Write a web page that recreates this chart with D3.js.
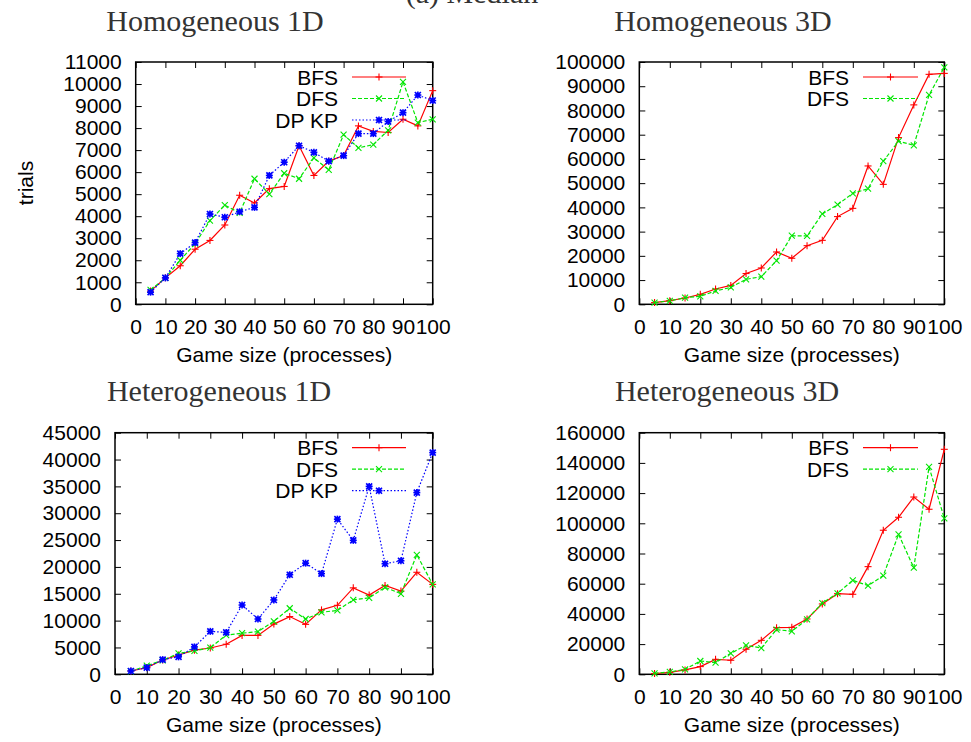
<!DOCTYPE html>
<html>
<head>
<meta charset="utf-8">
<script src="https://cdn.jsdelivr.net/npm/d3@7"></script>
<style>
  html, body { margin: 0; padding: 0; background: #fff; }
  svg { display: block; }
</style>
</head>
<body>
<svg id="fig" width="971" height="742"></svg>
<script>
// Game sizes (number of processes) on the x axis
const gameSizes = [5, 10, 15, 20, 25, 30, 35, 40, 45, 50, 55, 60, 65, 70, 75, 80, 85, 90, 95, 100];
const xTicks = [0, 10, 20, 30, 40, 50, 60, 70, 80, 90, 100];

// Homogeneous 1D: median trials
const homo1dBFS = [600, 1200, 1750, 2500, 2900, 3600, 4950, 4600, 5250, 5350, 7200, 5850, 6500, 6750, 8100, 7850, 7800, 8400, 8100, 9700];
const homo1dDFS = [650, 1200, 2000, 2750, 3800, 4500, 4150, 5700, 5000, 5950, 5700, 6650, 6100, 7700, 7100, 7250, 7900, 10100, 8250, 8400];
const homo1dDPKP = [550, 1200, 2300, 2800, 4100, 3950, 4200, 4400, 5850, 6450, 7200, 6900, 6500, 6750, 7750, 7750, 8300, 8700, 9500, 9250];

// Homogeneous 3D
const homo3dBFS = [700, 1500, 2600, 4100, 6300, 7800, 12700, 15000, 21600, 19000, 24200, 26400, 36200, 39600, 57100, 49500, 68800, 82300, 94900, 95300];
const homo3dDFS = [700, 1400, 2750, 3300, 5500, 7000, 10300, 11400, 18000, 28300, 28200, 37300, 41100, 45800, 47700, 59100, 67300, 65600, 86400, 97800];

// Heterogeneous 1D
const hetero1dBFS = [620, 1250, 2650, 3600, 4500, 4900, 5600, 7250, 7250, 9350, 10750, 9300, 12000, 12850, 16100, 14750, 16550, 15500, 19000, 16750];
const hetero1dDFS = [560, 1600, 2600, 3900, 4350, 4950, 7300, 7650, 7950, 9850, 12300, 10300, 11550, 11900, 13850, 14250, 16200, 15000, 22250, 16750];
const hetero1dDPKP = [620, 1240, 2730, 3250, 5100, 8000, 7800, 12900, 10300, 13850, 18550, 20700, 18750, 28900, 24950, 35000, 20600, 21150, 33850, 41300];

// Heterogeneous 3D
const hetero3dBFS = [450, 1300, 2900, 5100, 9900, 9300, 16600, 22500, 30900, 31100, 36650, 46600, 53400, 53000, 71300, 95400, 104000, 117400, 109300, 149000];
const hetero3dDFS = [650, 1550, 3300, 8800, 7700, 13900, 19200, 17400, 29600, 28500, 36400, 47200, 53600, 62250, 58700, 65350, 92700, 70600, 137300, 103300];

// Y tick values for each panel
const homo1dTicks = [0, 1000, 2000, 3000, 4000, 5000, 6000, 7000, 8000, 9000, 10000, 11000];
const homo3dTicks = [0, 10000, 20000, 30000, 40000, 50000, 60000, 70000, 80000, 90000, 100000];
const hetero1dTicks = [0, 5000, 10000, 15000, 20000, 25000, 30000, 35000, 40000, 45000];
const hetero3dTicks = [0, 20000, 40000, 60000, 80000, 100000, 120000, 140000, 160000];

const seriesStyle = {
  "BFS":   { color: "#ff0000", dash: null,  marker: "plus" },
  "DFS":   { color: "#00e600", dash: "4,2", marker: "cross" },
  "DP KP": { color: "#0000ff", dash: "1.5,2", marker: "star" }
};

const svg = d3.select("#fig");
const sansFont = "'Liberation Sans', Arial, sans-serif";
const serifFont = "'Liberation Serif', 'Times New Roman', serif";

// Figure caption, partly above the page edge
svg.append("text")
  .attr("x", 472).attr("y", 3)
  .attr("text-anchor", "middle")
  .attr("font-family", serifFont).attr("font-size", 30)
  .attr("fill", "#333")
  .text("(a) Median");

function drawMarker(g, kind, x, y, color) {
  const s = 3.5;
  if (kind === "plus" || kind === "star") {
    g.append("line").attr("x1", x - s).attr("x2", x + s).attr("y1", y).attr("y2", y)
      .attr("stroke", color).attr("stroke-width", kind === "star" ? 1.6 : 1.1);
    g.append("line").attr("x1", x).attr("x2", x).attr("y1", y - s).attr("y2", y + s)
      .attr("stroke", color).attr("stroke-width", kind === "star" ? 1.6 : 1.1);
  }
  if (kind === "cross" || kind === "star") {
    const c = kind === "star" ? 3 : 3;
    g.append("line").attr("x1", x - c).attr("x2", x + c).attr("y1", y - c).attr("y2", y + c)
      .attr("stroke", color).attr("stroke-width", kind === "star" ? 1.6 : 1.1);
    g.append("line").attr("x1", x - c).attr("x2", x + c).attr("y1", y + c).attr("y2", y - c)
      .attr("stroke", color).attr("stroke-width", kind === "star" ? 1.6 : 1.1);
  }
  if (kind === "star") {
    g.append("rect").attr("x", x - 2.2).attr("y", y - 2.2).attr("width", 4.4).attr("height", 4.4)
      .attr("fill", color);
  }
}

function drawPanel(cfg) {
  const x = d3.scaleLinear().domain([0, 100]).range([cfg.left, cfg.right]);
  const y = d3.scaleLinear().domain([0, cfg.yTicks[cfg.yTicks.length - 1]]).range([cfg.bottom, cfg.top]);
  const g = svg.append("g");

  // Panel title
  g.append("text")
    .attr("x", cfg.titleX).attr("y", cfg.titleY)
    .attr("text-anchor", "middle")
    .attr("font-family", serifFont).attr("font-size", 30)
    .attr("fill", "#333")
    .text(cfg.title);

  // Inward ticks on all four sides
  const tickLen = 6;
  const axisBottom = d3.axisBottom(x).tickValues(xTicks).tickSize(-tickLen).tickPadding(tickLen + 9).tickFormat(d3.format("d"));
  const axisTop = d3.axisTop(x).tickValues(xTicks).tickSize(-tickLen).tickFormat("");
  const axisLeft = d3.axisLeft(y).tickValues(cfg.yTicks).tickSize(-tickLen).tickPadding(tickLen + 8).tickFormat(d3.format("d"));
  const axisRight = d3.axisRight(y).tickValues(cfg.yTicks).tickSize(-tickLen).tickFormat("");

  const styleAxis = sel => {
    sel.select(".domain").remove();
    sel.selectAll(".tick line").attr("stroke", "#000").attr("stroke-width", 1);
    sel.selectAll(".tick text").attr("font-family", sansFont).attr("font-size", 21).attr("fill", "#000");
  };
  g.append("g").attr("transform", `translate(0,${cfg.bottom})`).call(axisBottom).call(styleAxis);
  g.append("g").attr("transform", `translate(0,${cfg.top})`).call(axisTop).call(styleAxis);
  g.append("g").attr("transform", `translate(${cfg.left},0)`).call(axisLeft).call(styleAxis);
  g.append("g").attr("transform", `translate(${cfg.right},0)`).call(axisRight).call(styleAxis);

  // Plot frame
  g.append("rect")
    .attr("x", cfg.left).attr("y", cfg.top)
    .attr("width", cfg.right - cfg.left).attr("height", cfg.bottom - cfg.top)
    .attr("fill", "none").attr("stroke", "#000").attr("stroke-width", 1.5);

  // X axis label
  g.append("text")
    .attr("x", (cfg.left + cfg.right) / 2).attr("y", cfg.bottom + 58)
    .attr("text-anchor", "middle")
    .attr("font-family", sansFont).attr("font-size", 21)
    .text("Game size (processes)");

  if (cfg.yLabel) {
    g.append("text")
      .attr("transform", `translate(33,183) rotate(-90)`)
      .attr("text-anchor", "middle")
      .attr("font-family", sansFont).attr("font-size", 21)
      .text(cfg.yLabel);
  }

  const line = d3.line().x((d, i) => x(gameSizes[i])).y(d => y(d));

  cfg.series.forEach((s, k) => {
    const st = seriesStyle[s.name];
    g.append("path")
      .datum(s.values)
      .attr("d", line)
      .attr("fill", "none")
      .attr("stroke", st.color)
      .attr("stroke-width", 1.2)
      .attr("stroke-dasharray", st.dash);
    const mg = g.append("g");
    s.values.forEach((v, i) => drawMarker(mg, st.marker, x(gameSizes[i]), y(v), st.color));

    // Legend entry
    const ly = cfg.top + 15 + k * 21.5;
    g.append("text")
      .attr("x", cfg.legendX - 14).attr("y", ly)
      .attr("dy", "0.36em")
      .attr("text-anchor", "end")
      .attr("font-family", sansFont).attr("font-size", 21)
      .text(s.name);
    g.append("line")
      .attr("x1", cfg.legendX).attr("x2", cfg.legendX + cfg.legendLen)
      .attr("y1", ly).attr("y2", ly)
      .attr("stroke", st.color).attr("stroke-width", 1.2)
      .attr("stroke-dasharray", st.dash);
    drawMarker(g, st.marker, cfg.legendX + cfg.legendLen / 2, ly, st.color);
  });
}

drawPanel({
  title: "Homogeneous 1D", titleX: 215, titleY: 31,
  left: 135.7, right: 432.7, top: 62, bottom: 304.3,
  yTicks: homo1dTicks, yLabel: "trials",
  legendX: 352, legendLen: 54,
  series: [
    { name: "BFS", values: homo1dBFS },
    { name: "DFS", values: homo1dDFS },
    { name: "DP KP", values: homo1dDPKP }
  ]
});

drawPanel({
  title: "Homogeneous 3D", titleX: 723, titleY: 31,
  left: 639.3, right: 944.3, top: 62, bottom: 304.3,
  yTicks: homo3dTicks,
  legendX: 863, legendLen: 55,
  series: [
    { name: "BFS", values: homo3dBFS },
    { name: "DFS", values: homo3dDFS }
  ]
});

drawPanel({
  title: "Heterogeneous 1D", titleX: 219, titleY: 401,
  left: 115, right: 432.7, top: 432.7, bottom: 674.3,
  yTicks: hetero1dTicks,
  legendX: 352, legendLen: 54,
  series: [
    { name: "BFS", values: hetero1dBFS },
    { name: "DFS", values: hetero1dDFS },
    { name: "DP KP", values: hetero1dDPKP }
  ]
});

drawPanel({
  title: "Heterogeneous 3D", titleX: 727, titleY: 401,
  left: 639.3, right: 944.3, top: 432.7, bottom: 674.3,
  yTicks: hetero3dTicks,
  legendX: 863, legendLen: 55,
  series: [
    { name: "BFS", values: hetero3dBFS },
    { name: "DFS", values: hetero3dDFS }
  ]
});
</script>
</body>
</html>
